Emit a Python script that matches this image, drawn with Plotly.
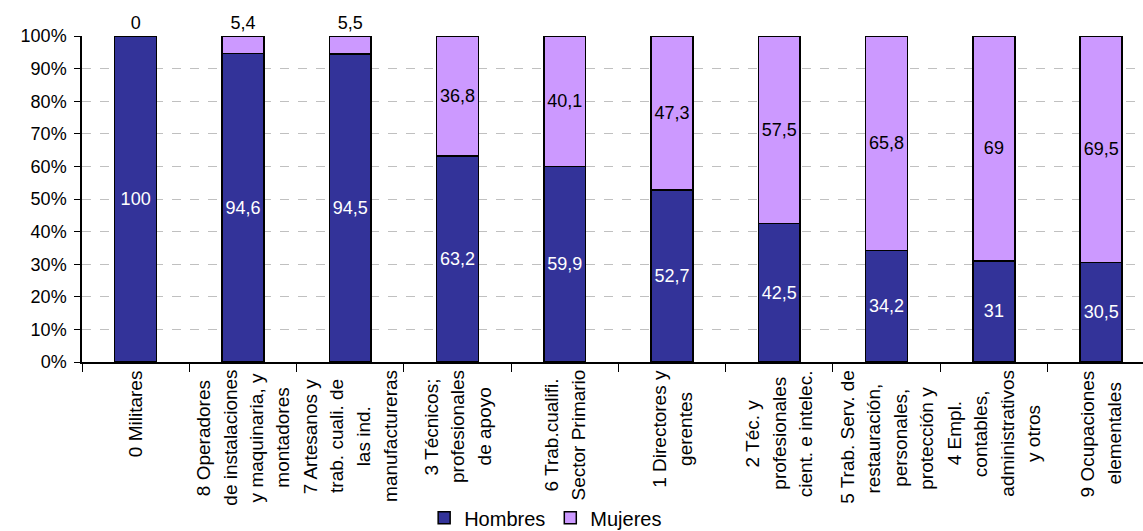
import plotly.graph_objects as go

# Data
categorias = [
    ["0 Militares"],
    ["8 Operadores", "de instalaciones", "y maquinaria, y", "montadores"],
    ["7 Artesanos y", "trab. cuali. de", "las ind.", "manufactureras"],
    ["3 Técnicos;", "profesionales", "de apoyo"],
    ["6 Trab.cualifi.", "Sector Primario"],
    ["1 Directores y", "gerentes"],
    ["2 Téc. y", "profesionales", "cient. e intelec."],
    ["5 Trab. Serv. de", "restauración,", "personales,", "protección y"],
    ["4 Empl.", "contables,", "administrativos", "y otros"],
    ["9 Ocupaciones", "elementales"],
]
hombres = [100, 94.6, 94.5, 63.2, 59.9, 52.7, 42.5, 34.2, 31, 30.5]
mujeres = [0, 5.4, 5.5, 36.8, 40.1, 47.3, 57.5, 65.8, 69, 69.5]
y_ticks = [0, 10, 20, 30, 40, 50, 60, 70, 80, 90, 100]
y_tick_labels = [f"{v}%" for v in y_ticks]

FONT = "Liberation Sans, Arial, sans-serif"
LABEL_SIZE = 19
LINE_GAP = 26.5

# Arial / Liberation Sans advance widths (1/1000 em), used to centre the rotated lines
W = {" ": 278, ",": 278, ".": 278, ";": 278, "a": 556, "b": 556, "c": 500, "d": 556,
     "e": 556, "f": 278, "g": 556, "h": 556, "i": 222, "j": 222, "k": 500, "l": 222,
     "m": 833, "n": 556, "o": 556, "p": 556, "q": 556, "r": 333, "s": 500, "t": 278,
     "u": 556, "v": 500, "w": 722, "x": 500, "y": 500, "z": 500, "é": 556, "ó": 556,
     "í": 278, "A": 667, "D": 722, "E": 667, "M": 833, "O": 778, "P": 667, "S": 667,
     "T": 611}


def text_px(s, size):
    return sum(W.get(ch, 556) for ch in s) * size / 1000


def fmt(v):
    return f"{v:g}".replace(".", ",")


x_idx = list(range(len(categorias)))

fig = go.Figure()

fig.add_trace(
    go.Bar(
        x=x_idx,
        y=hombres,
        name="Hombres",
        marker=dict(color="#333399", line=dict(color="black", width=1.5)),
        text=[fmt(v) for v in hombres],
        textposition="inside",
        insidetextanchor="middle",
        insidetextfont=dict(color="white", size=18, family=FONT),
        textangle=0,
        constraintext="none",
    )
)

# small values get their label above the bar
mujeres_pos = ["outside" if v < 10 else "inside" for v in mujeres]
fig.add_trace(
    go.Bar(
        x=x_idx,
        y=mujeres,
        name="Mujeres",
        marker=dict(color="#CC99FF", line=dict(color="black", width=1.5)),
        text=[fmt(v) for v in mujeres],
        textposition=mujeres_pos,
        insidetextanchor="middle",
        insidetextfont=dict(color="black", size=18, family=FONT),
        outsidetextfont=dict(color="black", size=18, family=FONT),
        textangle=0,
        constraintext="none",
        cliponaxis=False,
    )
)

# Category labels: rotated, one annotation per line, shorter lines pushed down to centre them
for i, lines in enumerate(categorias):
    longest = max(text_px(s, LABEL_SIZE) for s in lines)
    n = len(lines)
    for k, s in enumerate(lines):
        fig.add_annotation(
            x=i,
            y=0,
            xref="x",
            yref="paper",
            text=s,
            textangle=-90,
            showarrow=False,
            xanchor="center",
            yanchor="top",
            xshift=(k - (n - 1) / 2) * LINE_GAP,
            yshift=-(6 + (longest - text_px(s, LABEL_SIZE)) / 2),
            font=dict(size=LABEL_SIZE, color="black", family=FONT),
        )

fig.update_layout(
    barmode="stack",
    bargap=0.61,
    width=1143,
    height=531,
    margin=dict(l=82, r=0, t=36, b=169, autoexpand=False),
    plot_bgcolor="white",
    paper_bgcolor="white",
    font=dict(family=FONT, size=18, color="black"),
    showlegend=True,
    legend=dict(
        orientation="h",
        x=0.437,
        xanchor="center",
        y=-0.478,
        yanchor="middle",
        font=dict(size=20),
        itemwidth=30,
        tracegroupgap=0,
        traceorder="normal",
    ),
)

fig.update_xaxes(
    range=[-0.5, 9.39],
    showticklabels=False,
    tickmode="array",
    tickvals=[i + 0.5 for i in x_idx[:-1]] + [-0.5],
    ticks="outside",
    ticklen=8,
    tickcolor="black",
    showline=True,
    linecolor="black",
    linewidth=1.5,
    showgrid=False,
    zeroline=False,
)

fig.update_yaxes(
    range=[0, 100],
    tickmode="array",
    tickvals=y_ticks,
    ticktext=y_tick_labels,
    ticks="outside",
    ticklen=6,
    tickcolor="black",
    ticklabelstandoff=4,
    showline=True,
    linecolor="black",
    linewidth=1.5,
    showgrid=True,
    gridcolor="#c0c0c0",
    griddash="dash",
    gridwidth=1,
    zeroline=False,
    tickfont=dict(size=18),
)

# page body margin would push the figure off the 1143x531 window
fig.write_html(
    "out.html",
    config={"displayModeBar": False},
    post_script="document.body.style.margin='0';",
)
